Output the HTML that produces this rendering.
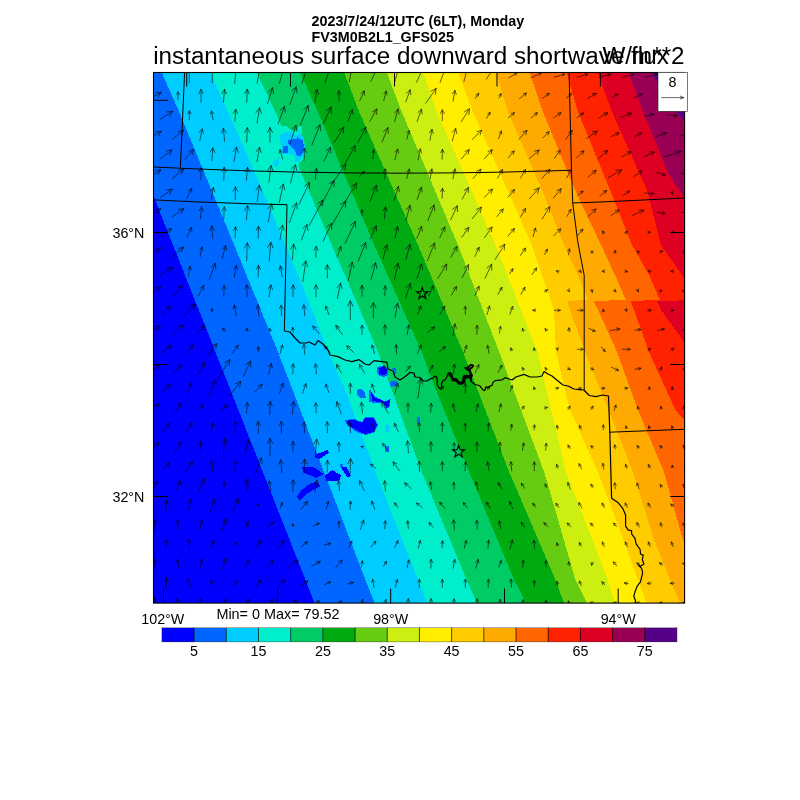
<!DOCTYPE html>
<html><head><meta charset="utf-8"><title>instantaneous surface downward shortwave flux</title>
<style>
html,body{margin:0;padding:0;background:#fff;}
body{width:800px;height:800px;overflow:hidden;}
svg{display:block;}
text{font-family:"Liberation Sans",Arial,Helvetica,sans-serif;fill:#000;}
.b{font-weight:bold;font-size:14.3px;}
.t{font-size:24.22px;}
.l{font-size:14.3px;}
</style></head><body>
<svg width="800" height="800" viewBox="0 0 800 800">
<defs><clipPath id="fr"><rect x="153.5" y="72.5" width="531.1" height="530.6"/></clipPath></defs>
<rect width="800" height="800" fill="#fff"/>

<g clip-path="url(#fr)">
<g shape-rendering="crispEdges">
<rect x="153.5" y="72.5" width="531.1" height="530.6" fill="#0000ff"/>
<polygon points="55.9,-50.0 104.3,72.0 173.0,245.0 215.5,352.0 305.5,580.0 315.0,604.0 353.0,700.0 2000,700 2000,-50" fill="#0066ff"/>
<polygon points="107.4,-50.0 161.5,72.0 179.2,112.0 234.2,245.0 278.0,352.0 365.5,580.0 375.0,604.0 413.0,700.0 2000,700 2000,-50" fill="#00cdff"/>
<polygon points="155.9,-50.0 210.2,72.0 228.0,112.0 246.0,152.0 285.5,245.0 313.0,312.0 328.0,352.0 346.0,392.0 375.5,472.0 418.0,580.0 427.5,604.0 465.5,700.0 2000,700 2000,-50" fill="#00eecc"/>
<polygon points="198.1,-50.0 256.4,72.0 275.5,112.0 331.8,245.0 361.0,312.0 378.0,352.0 392.5,392.0 421.8,472.0 466.8,580.0 474.2,597.0 477.0,604.0 514.7,700.0 2000,700 2000,-50" fill="#00cc66"/>
<polygon points="281.0,126.6 286.2,125.7 289.7,128.8 295.0,131.9 299.4,125.7 302.0,127.5 302.4,136.2 304.6,143.2 305.5,151.1 303.7,159.0 299.4,162.5 298.5,169.5 277.5,169.5 277.5,126.6" fill="#00eecc"/>
<polygon points="245.1,-50.0 300.0,72.0 318.0,112.0 374.2,245.0 421.8,352.0 436.8,392.0 469.2,472.0 514.2,580.0 523.0,597.0 526.0,604.0 567.1,700.0 2000,700 2000,-50" fill="#00aa11"/>
<polygon points="297.5,-50.0 344.0,72.0 359.2,112.0 418.0,245.0 463.0,352.0 509.2,472.0 555.5,580.0 561.8,597.0 564.5,604.0 602.2,700.0 2000,700 2000,-50" fill="#66cc11"/>
<polygon points="340.4,-50.0 386.6,72.0 401.8,112.0 458.0,245.0 499.2,352.0 544.2,472.0 575.5,580.0 584.2,597.0 587.0,604.0 624.7,700.0 2000,700 2000,-50" fill="#ccee11"/>
<polygon points="381.1,-50.0 423.0,72.0 436.8,112.0 495.5,245.0 537.5,352.0 566.0,472.0 608.0,580.0 613.0,597.0 616.0,604.0 657.1,700.0 2000,700 2000,-50" fill="#ffee00"/>
<polygon points="412.2,-50.0 458.0,72.0 473.0,112.0 531.8,245.0 542.0,275.0 554.0,310.0 556.0,352.0 570.0,410.0 598.0,472.0 623.6,540.0 638.0,580.0 644.2,597.0 647.0,604.0 684.7,700.0 2000,700 2000,-50" fill="#ffcc00"/>
<polygon points="459.4,-50.0 496.0,72.0 508.0,112.0 542.0,190.0 564.0,245.0 578.0,275.0 588.0,300.4 567.0,300.6 570.0,310.0 585.0,352.0 608.7,410.0 633.0,472.0 654.2,540.0 680.0,604.0 718.6,700.0 2000,700 2000,-50" fill="#ffaa00"/>
<polygon points="488.3,-50.0 529.5,72.0 543.0,112.0 575.0,190.0 601.0,245.0 615.0,275.0 626.0,300.4 593.5,300.6 598.0,310.0 617.0,352.0 638.0,410.0 664.0,472.0 683.0,540.0 708.0,604.0 745.5,700.0 2000,700 2000,-50" fill="#ff6600"/>
<polygon points="531.4,-50.0 566.5,72.0 578.0,112.0 610.0,190.0 632.0,245.0 649.0,275.0 660.0,300.4 630.5,300.6 634.0,310.0 649.0,352.0 675.4,410.0 685.0,421.0 760.0,604.0 799.3,700.0 2000,700 2000,-50" fill="#ff2200"/>
<polygon points="553.3,-50.0 597.5,72.0 612.0,112.0 647.0,190.0 661.0,245.0 682.0,275.0 686.0,281.0 700.0,300.4 657.0,300.6 661.0,310.0 685.0,343.0 800.0,604.0 842.3,700.0 2000,700 2000,-50" fill="#dd0022"/>
<polygon points="584.3,-50.0 628.5,72.0 643.0,112.0 658.0,148.0 669.0,175.0 679.0,190.0 685.0,198.0 850.0,604.0 889.0,700.0 2000,700 2000,-50" fill="#990055"/>
<polygon points="599.7,-50.0 652.0,72.0 655.0,79.0 677.0,112.0 685.0,122.0 900.0,604.0 942.8,700.0 2000,700 2000,-50" fill="#550088"/>
<polygon points="279.2,135.4 286.2,131.9 291.5,131.0 295.0,135.4 301.1,132.7 303.7,138.9 305.5,149.4 302.0,157.2 298.5,162.5 295.0,161.6 295.0,155.5 288.9,153.7 282.7,153.7 281.0,145.0" fill="#00cdff"/>
<polygon points="274.4,160.7 278.8,158.6 278.8,164.2 276.2,166.9 274.4,166.0" fill="#00cdff"/>
<polygon points="288.0,139.7 296.7,139.3 297.6,137.1 299.4,139.3 302.9,139.7 303.7,145.0 303.7,151.1 301.1,155.5 296.7,155.5 295.0,151.1 292.4,147.6 288.4,144.1" fill="#0066ff"/>
<polygon points="283.2,146.3 288.0,146.3 288.0,152.9 283.2,152.9" fill="#0066ff"/>
<polygon points="376.6,367.3 382.8,365.5 388.0,368.1 388.4,374.3 384.5,376.9 379.3,376.0 377.0,372.5" fill="#0066ff"/>
<polygon points="378.4,368.1 382.8,366.9 386.6,369.0 386.6,373.4 383.6,375.1 379.6,374.3" fill="#0000ff"/>
<polygon points="389.8,381.6 397.1,380.9 397.6,385.6 390.6,386.9" fill="#0066ff"/>
<polygon points="392.4,368.1 395.5,367.6 395.9,374.3 393.3,373.9" fill="#0066ff"/>
<polygon points="356.5,390.0 360.9,388.6 365.3,392.6 365.6,397.9 360.9,397.9 356.9,394.4" fill="#0066ff"/>
<polygon points="369.6,388.3 374.0,396.1 384.5,401.4 390.6,398.8 389.8,406.6 386.3,409.3 382.8,403.1 368.8,402.3" fill="#0066ff"/>
<polygon points="370.5,390.0 374.4,397.0 384.5,401.9 390.1,399.6 389.1,406.1 386.3,408.0 383.5,402.6 372.3,400.9" fill="#0000ff"/>
<polygon points="345.1,420.6 353.0,418.4 361.8,421.9 365.3,416.6 373.7,416.6 378.0,425.0 374.4,432.5 365.3,435.2 356.2,431.7 347.1,425.4" fill="#0066ff"/>
<polygon points="346.4,421.0 353.0,419.4 361.8,422.9 365.6,417.7 373.0,417.7 377.0,425.0 373.7,431.7 365.3,434.1 356.9,430.6 348.1,425.0" fill="#0000ff"/>
<polygon points="385.4,425.0 388.9,425.0 388.9,432.0 385.4,432.0" fill="#00cdff"/>
<polygon points="416.9,417.1 420.4,417.1 420.4,423.6 416.9,423.6" fill="#0066ff"/>
<polygon points="385.4,446.0 388.9,446.0 388.9,452.3 385.4,452.3" fill="#0066ff"/>
<polygon points="314.5,455.1 327.6,449.9 328.9,453.0 319.8,458.6 315.0,458.3" fill="#0000ff"/>
<polygon points="301.9,467.5 312.8,466.5 323.6,474.0 316.3,477.9 303.7,472.6" fill="#0000ff"/>
<polygon points="324.7,475.8 332.0,470.2 341.1,474.9 339.4,480.5 326.4,480.5" fill="#0000ff"/>
<polygon points="340.4,466.7 346.4,466.7 350.7,475.8 347.8,477.9" fill="#0000ff"/>
<polygon points="339.9,463.5 342.5,463.5 342.5,467.0 339.9,467.0" fill="#0066ff"/>
<polygon points="316.6,481.6 320.3,486.1 306.5,493.9 299.9,501.0 296.5,497.2 301.0,490.5 308.8,484.3" fill="#0000ff"/>
</g>
<polyline points="184.6,72.5 180.4,167.6" fill="none" stroke="#000" stroke-width="1.0" stroke-linejoin="round"/>
<polyline points="153.5,167.0 200.0,169.1 250.0,170.9 300.0,172.2 350.0,172.9 400.0,173.2 450.0,172.9 500.0,172.2 550.0,170.9 571.5,170.2" fill="none" stroke="#000" stroke-width="1.0" stroke-linejoin="round"/>
<polyline points="153.5,199.9 200.0,202.0 250.0,203.8 287.0,204.7 284.4,331.0" fill="none" stroke="#000" stroke-width="1.0" stroke-linejoin="round"/>
<polyline points="569.1,72.5 571.5,171.0 572.8,203.8 577.8,242.0 584.2,275.4 584.2,390.0" fill="none" stroke="#000" stroke-width="1.0" stroke-linejoin="round"/>
<polyline points="572.8,203.0 600.0,202.0 640.0,200.2 684.6,197.9" fill="none" stroke="#000" stroke-width="1.0" stroke-linejoin="round"/>
<polyline points="284.4,331.0 290.0,332.0 295.0,338.0 300.0,343.0 306.0,343.0 309.0,342.0 315.0,345.0 318.0,340.6 323.0,344.0 328.0,350.0 330.0,355.0 338.0,356.6 345.0,360.0 352.0,361.6 359.0,359.6 365.0,364.0 369.0,365.0 374.0,360.6 382.0,361.6 387.0,362.4 388.0,369.0 393.0,371.0 395.0,377.0 400.0,380.0 406.0,376.0 410.0,372.4 414.0,373.0 415.0,377.0 420.0,377.5 423.0,381.0 427.0,381.0 430.0,378.9 432.6,378.4 434.8,376.2 436.6,377.1 437.4,380.2 437.0,384.1 438.7,387.6 440.5,388.9 441.8,386.7 441.4,384.1 443.1,380.6 445.3,379.7 447.1,376.2 447.9,373.6 450.6,373.2 451.9,375.4 452.7,378.9 456.2,378.9 458.9,381.9 461.1,382.8 463.2,380.6 463.7,376.2 466.7,375.4 469.4,376.2 470.7,374.5 469.8,371.0 467.6,370.1 465.0,367.5 466.7,367.9 468.5,366.6 470.7,364.9 473.3,365.7 472.0,367.5 470.2,367.9 469.8,371.0 472.0,375.4 470.7,378.0 471.1,381.5 472.9,382.8 475.5,385.0 478.1,385.0 480.3,386.3 482.5,389.4 484.7,390.7 486.0,386.7 487.7,387.6 489.5,386.3 492.1,385.4 493.0,382.4 495.2,380.6 500.0,380.2 502.0,380.0 505.0,377.6 509.0,379.0 512.0,380.0 516.0,377.0 524.0,374.4 530.0,377.0 537.0,377.0 542.0,376.0 544.0,371.6 548.0,374.0 552.0,376.0 558.0,381.0 563.0,385.0 568.0,386.0 574.0,389.0 580.0,389.6 583.8,390.0 589.3,395.5 596.0,396.6 602.7,395.0 608.5,396.0 609.8,432.2 611.6,498.3 618.3,502.8 622.7,508.3 625.6,515.0 625.6,526.1 628.3,530.1 631.6,530.6 631.6,533.9 635.0,538.4 636.1,543.9 640.1,549.5 640.5,554.0 643.2,555.1 642.3,559.5 643.9,564.0 640.5,566.2 638.3,565.1 641.6,568.4 642.7,572.9 640.5,581.8 637.2,586.2 635.0,591.8 633.8,596.2 635.6,600.7 635.0,603.1" fill="none" stroke="#000" stroke-width="1.2" stroke-linejoin="round"/>
<polyline points="609.8,432.2 684.6,429.3" fill="none" stroke="#000" stroke-width="1.0" stroke-linejoin="round"/>
<polyline points="447.9,373.6 450.6,373.2 451.9,375.4 452.7,379.3 456.2,379.3 458.9,382.4 461.1,383.1 463.2,381.1 463.7,376.7 466.7,375.8 469.4,376.7 470.7,374.9 469.8,371.0 467.6,369.7 465.0,367.5" fill="none" stroke="#000" stroke-width="2.0" stroke-linejoin="round"/>
<polyline points="467.6,369.7 468.5,366.6 470.7,364.9 473.3,365.7 471.6,367.9 470.2,368.4 470.1,371.4 472.0,375.4 470.7,378.0 471.1,381.5" fill="none" stroke="#000" stroke-width="1.8" stroke-linejoin="round"/>
<polyline points="448.8,374.9 451.4,377.1 452.3,380.6 455.8,380.8 458.4,383.7 461.5,384.3 464.6,381.9 465.0,378.0 467.6,377.6 469.8,378.4" fill="none" stroke="#000" stroke-width="1.5" stroke-linejoin="round"/>
<polygon points="422.3,287.6 423.7,291.7 428.0,291.7 424.6,294.3 425.8,298.5 422.3,296.0 418.8,298.5 420.0,294.3 416.6,291.7 420.9,291.7" fill="none" stroke="#000" stroke-width="1.15" stroke-linejoin="miter"/>
<polygon points="458.6,445.5 460.1,449.8 464.6,449.9 461.0,452.6 462.3,456.9 458.6,454.3 454.9,456.9 456.2,452.6 452.6,449.9 457.1,449.8" fill="none" stroke="#000" stroke-width="1.15" stroke-linejoin="miter"/>
<path d="M189.3 82.8L189.3 62.0M187.1 66.4L189.3 62.0L191.5 66.4M212.3 82.8L212.3 62.0M210.1 66.4L212.3 62.0L214.5 66.4M234.7 83.3L236.6 61.0M233.8 65.5L236.6 61.0L238.6 65.9M257.1 83.2L261.0 61.1M257.8 65.4L261.0 61.1L262.5 66.2M279.4 83.5L285.6 60.4M281.8 64.6L285.6 60.4L286.8 65.9M302.0 83.4L309.4 60.6M305.4 64.6L309.4 60.6L310.3 66.2M324.9 82.9L332.6 61.8M328.7 65.5L332.6 61.8L333.2 67.1M349.3 81.7L352.4 64.4M349.9 67.7L352.4 64.4L353.6 68.4M370.8 81.7L378.9 64.3M375.3 67.1L378.9 64.3L379.0 68.9M394.9 81.6L399.4 64.6M396.6 67.7L399.4 64.6L400.3 68.7M416.6 82.2L425.3 63.3M421.5 66.4L425.3 63.3L425.5 68.3M440.1 82.4L447.2 62.9M443.6 66.2L447.2 62.9L447.8 67.8M463.9 81.6L468.4 64.6M465.6 67.7L468.4 64.6L469.3 68.7M486.4 79.3L492.4 69.8M490.0 71.2L492.4 69.8L492.1 72.6M508.7 77.8L517.0 73.0M514.2 73.1L517.0 73.0L515.5 75.3M531.1 77.8L541.3 73.0M538.5 72.9L541.3 73.0L539.6 75.3M553.9 77.2L564.7 74.3M562.0 73.7L564.7 74.3L562.7 76.2M576.9 77.2L587.7 74.3M585.0 73.7L587.7 74.3L585.7 76.2M599.9 77.2L610.7 74.3M608.0 73.7L610.7 74.3L608.7 76.2M622.9 77.2L633.7 74.3M631.0 73.7L633.7 74.3L631.7 76.2M645.4 77.3L657.8 74.0M654.8 73.4L657.8 74.0L655.5 76.1M148.9 99.3L161.1 92.3M155.7 92.6L161.1 92.3L158.2 96.8M178.0 99.8L178.0 91.8M176.6 94.5L178.0 91.8L179.4 94.5M201.0 102.3L201.0 89.3M198.8 93.7L201.0 89.3L203.2 93.7M223.4 102.3L224.6 89.3M221.9 93.5L224.6 89.3L226.4 93.9M246.8 102.3L247.2 89.3M244.8 93.6L247.2 89.3L249.3 93.8M267.4 103.9L272.6 87.7M268.4 92.0L272.6 87.7L273.6 93.6M289.8 104.7L296.2 86.9M291.9 91.0L296.2 86.9L297.0 92.8M314.9 102.2L317.1 89.4M314.2 93.3L317.1 89.4L318.6 94.1M339.0 100.8L339.0 90.8M337.3 94.2L339.0 90.8L340.7 94.2M359.7 100.8L364.3 90.8M361.0 93.4L364.3 90.8L364.5 95.0M383.7 100.6L386.3 91.0M383.8 93.8L386.3 91.0L387.1 94.7M405.8 101.9L410.2 89.7M406.6 93.1L410.2 89.7L410.8 94.6M425.8 103.2L436.2 88.4M430.9 91.2L436.2 88.4L435.3 94.4M453.0 101.2L455.0 90.4M452.4 93.7L455.0 90.4L456.2 94.4M475.3 98.3L478.7 93.3M476.2 94.7L478.7 93.3L478.3 96.1M498.8 98.0L501.2 93.6M498.9 95.2L501.2 93.6L501.1 96.4M519.5 98.6L526.5 93.0M523.2 93.7L526.5 93.0L525.1 96.1M542.7 98.1L549.3 93.5M546.3 93.9L549.3 93.5L547.8 96.2M566.3 98.0L571.7 93.6M569.0 94.2L571.7 93.6L570.6 96.1M587.7 98.3L596.3 93.3M592.5 93.5L596.3 93.3L594.3 96.5M612.0 97.5L618.0 94.0M615.2 94.2L618.0 94.0L616.5 96.4M633.9 97.7L642.1 93.9M638.7 93.8L642.1 93.9L640.0 96.6M160.2 119.2L172.4 111.4M166.9 111.9L172.4 111.4L169.6 116.1M189.3 119.8L189.3 110.8M187.7 113.8L189.3 110.8L190.9 113.8M213.1 119.7L211.5 110.9M210.5 114.1L211.5 110.9L213.6 113.6M234.8 121.3L235.8 109.3M233.4 113.2L235.8 109.3L237.5 113.6M257.0 122.9L259.6 107.7M256.1 112.4L259.6 107.7L261.4 113.3M278.1 124.2L284.5 106.4M280.2 110.5L284.5 106.4L285.3 112.3M300.4 125.0L308.2 105.6M303.7 109.5L308.2 105.6L308.8 111.5M323.5 123.5L331.1 107.1M326.4 110.8L331.1 107.1L331.3 113.1M348.2 120.9L352.4 109.7M349.0 112.8L352.4 109.7L352.9 114.2M369.7 121.6L376.9 109.0M372.3 112.0L376.9 109.0L376.6 114.5M394.6 121.6L398.0 109.0M394.7 112.7L398.0 109.0L399.0 113.9M417.1 121.4L421.5 109.2M417.9 112.6L421.5 109.2L422.1 114.1M442.3 120.8L442.3 109.8M440.4 113.5L442.3 109.8L444.2 113.5M461.2 121.9L469.4 108.7M464.4 111.8L469.4 108.7L468.9 114.6M486.6 118.3L490.1 112.3M487.7 113.8L490.1 112.3L489.9 115.1M508.2 117.9L514.4 112.7M511.4 113.4L514.4 112.7L513.2 115.5M531.2 117.9L537.4 112.7M534.4 113.4L537.4 112.7L536.2 115.5M553.6 117.9L561.0 112.7M557.6 113.2L561.0 112.7L559.4 115.7M577.0 117.6L583.6 113.0M580.6 113.4L583.6 113.0L582.1 115.7M599.0 117.8L607.6 112.8M603.8 113.0L607.6 112.8L605.6 116.0M620.7 117.4L631.9 113.2M627.4 112.7L631.9 113.2L628.8 116.6M644.5 116.6L654.1 114.0M650.4 113.2L654.1 114.0L651.3 116.5M667.3 114.9L677.3 115.7M674.1 113.7L677.3 115.7L673.8 117.2M148.9 138.3L161.1 131.3M155.7 131.6L161.1 131.3L158.2 135.8M172.4 139.5L183.6 130.1M178.2 131.4L183.6 130.1L181.4 135.2M199.8 140.7L202.2 128.9M199.4 132.5L202.2 128.9L203.4 133.3M224.6 141.3L223.4 128.3M221.6 132.9L223.4 128.3L226.1 132.5M246.7 142.0L247.3 127.6M244.6 132.4L247.3 127.6L249.6 132.5M270.0 142.1L270.0 127.6M267.5 132.5L270.0 127.6L272.5 132.5M289.9 144.3L296.1 125.3M291.8 129.5L296.1 125.3L297.0 131.2M311.9 145.0L320.1 124.6M315.6 128.5L320.1 124.6L320.6 130.6M334.2 142.4L343.8 127.2M338.6 130.3L343.8 127.2L343.2 133.1M358.0 142.3L366.0 127.3M361.1 130.7L366.0 127.3L365.9 133.3M382.1 142.0L387.9 127.6M383.5 131.5L387.9 127.6L388.4 133.5M406.8 139.1L409.2 130.5M406.9 133.0L409.2 130.5L409.9 133.8M430.0 140.2L432.0 129.4M429.4 132.7L432.0 129.4L433.2 133.4M452.3 141.1L455.7 128.5M452.4 132.2L455.7 128.5L456.7 133.4M472.4 139.4L481.6 130.2M476.9 131.7L481.6 130.2L480.1 134.9M498.6 138.6L501.4 131.0M499.1 133.1L501.4 131.0L501.7 134.1M519.0 139.3L527.0 130.3M522.8 132.0L527.0 130.3L525.8 134.7M542.8 138.0L549.2 131.6M545.9 132.7L549.2 131.6L548.1 134.9M565.8 139.3L572.2 130.3M568.5 132.3L572.2 130.3L571.6 134.4M586.7 138.5L597.3 131.1M592.4 131.8L597.3 131.1L595.0 135.4M610.9 136.7L619.1 132.9M615.7 132.8L619.1 132.9L617.0 135.6M634.5 136.8L641.5 132.8M638.4 133.0L641.5 132.8L639.8 135.3M655.4 136.9L666.6 132.7M662.1 132.2L666.6 132.7L663.5 136.1M679.2 136.1L688.8 133.5M685.1 132.7L688.8 133.5L686.0 136.0M160.6 158.8L172.0 149.8M166.6 150.9L172.0 149.8L169.7 154.8M185.0 159.1L193.6 149.5M189.0 151.2L193.6 149.5L192.4 154.2M211.7 160.8L212.9 147.8M210.2 152.0L212.9 147.8L214.7 152.4M234.0 161.4L236.6 147.2M233.2 151.6L236.6 147.2L238.2 152.4M257.0 161.4L259.6 147.2M256.2 151.6L259.6 147.2L261.2 152.4M282.6 159.1L280.0 149.5M279.2 153.2L280.0 149.5L282.5 152.3M304.1 160.3L304.5 148.3M302.3 152.3L304.5 148.3L306.4 152.4M324.0 161.3L330.6 147.3M325.9 150.9L330.6 147.3L330.8 153.2M345.3 163.0L355.3 145.6M350.3 148.9L355.3 145.6L355.0 151.6M372.9 158.8L373.7 149.8M371.9 152.7L373.7 149.8L375.0 153.0M394.9 159.6L397.7 149.0M394.9 152.1L397.7 149.0L398.6 153.1M418.2 159.7L420.4 148.9M417.8 152.2L420.4 148.9L421.5 153.0M442.1 159.3L442.5 149.3M440.6 152.6L442.5 149.3L444.1 152.7M461.4 158.9L469.2 149.7M465.0 151.5L469.2 149.7L468.1 154.1M484.4 158.9L492.2 149.7M488.0 151.5L492.2 149.7L491.1 154.1M508.4 157.7L514.2 150.9M511.0 152.2L514.2 150.9L513.4 154.2M529.5 158.6L539.1 150.0M534.4 151.2L539.1 150.0L537.4 154.6M554.4 158.4L560.2 150.2M556.8 152.0L560.2 150.2L559.6 154.0M576.8 157.8L583.8 150.8M580.2 151.9L583.8 150.8L582.7 154.4M598.8 158.3L607.8 150.3M603.4 151.5L607.8 150.3L606.1 154.5M621.5 157.1L631.1 151.6M626.9 151.8L631.1 151.6L628.8 155.1M644.3 156.6L654.3 152.0M650.1 151.8L654.3 152.0L651.7 155.3M663.7 157.1L680.9 151.5M674.9 150.6L680.9 151.5L676.6 155.8M149.3 177.8L160.7 169.8M155.5 170.5L160.7 169.8L158.2 174.5M172.4 178.5L183.6 169.1M178.2 170.4L183.6 169.1L181.4 174.2M200.8 179.8L201.2 167.8M199.0 171.8L201.2 167.8L203.1 171.9M223.8 180.3L224.2 167.3M221.8 171.6L224.2 167.3L226.3 171.8M246.4 180.3L247.6 167.3M244.9 171.5L247.6 167.3L249.4 171.9M268.9 182.0L271.1 165.6M267.7 170.5L271.1 165.6L273.1 171.3M290.5 183.0L295.5 164.6M291.4 169.1L295.5 164.6L296.7 170.5M315.5 179.3L316.5 168.3M314.3 171.9L316.5 168.3L318.0 172.2M332.1 183.6L345.9 164.0M340.6 166.8L345.9 164.0L345.0 169.9M359.5 176.3L364.5 171.3M361.8 172.2L364.5 171.3L363.6 174.0M384.8 178.8L385.2 168.8M383.3 172.1L385.2 168.8L386.8 172.2M406.7 178.6L409.3 169.0M406.8 171.8L409.3 169.0L410.1 172.7M430.1 178.7L431.9 168.9M429.6 171.9L431.9 168.9L433.0 172.5M453.0 178.7L455.0 168.9M452.6 171.9L455.0 168.9L456.0 172.6M473.1 178.4L480.9 169.2M476.7 171.0L480.9 169.2L479.8 173.6M497.5 178.1L502.5 169.5M499.3 171.5L502.5 169.5L502.3 173.3M520.5 178.1L525.5 169.5M522.3 171.5L525.5 169.5L525.3 173.3M542.1 178.4L549.9 169.2M545.7 171.0L549.9 169.2L548.8 173.6M566.8 177.7L571.2 169.9M568.4 171.8L571.2 169.9L571.1 173.3M587.8 177.3L596.2 170.3M592.1 171.2L596.2 170.3L594.6 174.1M608.3 177.7L621.7 169.9M615.8 170.2L621.7 169.9L618.5 174.9M633.9 176.7L642.1 170.9M638.3 171.5L642.1 170.9L640.3 174.3M656.7 172.6L665.3 175.0M662.8 172.7L665.3 175.0L662.0 175.7M680.1 173.1L687.9 174.5M685.5 172.7L687.9 174.5L685.0 175.4M160.4 197.5L172.2 189.1M166.8 189.9L172.2 189.1L169.7 194.0M187.0 198.3L191.6 188.3M188.3 190.9L191.6 188.3L191.8 192.5M211.3 199.2L213.3 187.4M210.6 191.0L213.3 187.4L214.7 191.8M235.1 199.8L235.5 186.8M233.1 191.1L235.5 186.8L237.6 191.3M257.2 201.5L259.4 185.1M256.0 190.0L259.4 185.1L261.4 190.8M279.3 202.6L283.3 184.0M279.5 188.7L283.3 184.0L284.8 189.8M299.2 204.2L309.4 182.4M304.6 186.1L309.4 182.4L309.6 188.4M320.5 206.1L334.1 180.5M329.2 183.9L334.1 180.5L334.0 186.5M343.9 203.5L356.7 183.1M351.5 186.2L356.7 183.1L356.1 189.1M370.1 201.2L376.5 185.4M372.0 189.4L376.5 185.4L377.0 191.4M394.1 200.2L398.5 186.4M394.6 190.3L398.5 186.4L399.4 191.8M417.1 199.4L421.5 187.2M417.9 190.6L421.5 187.2L422.1 192.1M442.1 198.3L442.5 188.3M440.6 191.6L442.5 188.3L444.1 191.7M462.2 199.0L468.4 187.6M464.3 190.4L468.4 187.6L468.3 192.5M484.1 197.5L492.5 189.1M488.2 190.5L492.5 189.1L491.1 193.4M508.1 197.1L514.5 189.5M511.0 191.0L514.5 189.5L513.7 193.2M529.4 198.7L539.2 187.9M534.0 189.9L539.2 187.9L537.7 193.2M553.4 197.9L561.2 188.7M557.0 190.5L561.2 188.7L560.1 193.1M577.6 195.5L583.0 191.1M580.3 191.7L583.0 191.1L581.9 193.6M599.9 196.2L606.7 190.4M603.4 191.2L606.7 190.4L605.4 193.6M623.0 195.6L629.6 191.0M626.6 191.4L629.6 191.0L628.1 193.7M644.8 192.9L653.8 193.7M650.9 191.9L653.8 193.7L650.6 195.0M671.8 192.4L672.8 194.2M672.7 191.4L672.8 194.2L670.5 192.6M149.3 216.8L160.7 208.8M155.5 209.5L160.7 208.8L158.2 213.5M172.1 217.0L183.9 208.6M178.5 209.4L183.9 208.6L181.4 213.5M200.5 218.8L201.5 206.8M199.1 210.7L201.5 206.8L203.2 211.1M223.8 218.8L224.2 206.8M222.0 210.8L224.2 206.8L226.1 210.9M246.4 220.0L247.6 205.6M244.7 210.3L247.6 205.6L249.7 210.7M268.4 221.7L271.6 203.9M268.0 208.7L271.6 203.9L273.3 209.7M289.4 222.7L296.6 202.9M292.2 207.0L296.6 202.9L297.3 208.9M309.2 225.6L322.8 200.0M317.9 203.4L322.8 200.0L322.7 206.0M332.2 224.5L345.8 201.1M340.7 204.4L345.8 201.1L345.4 207.1M362.0 215.8L362.0 209.8M360.7 212.3L362.0 209.8L363.3 212.3M384.5 218.8L385.5 206.8M383.1 210.7L385.5 206.8L387.2 211.1M406.0 220.3L410.0 205.3M406.1 209.7L410.0 205.3L411.2 211.1M427.8 220.7L434.2 204.9M429.7 208.9L434.2 204.9L434.7 210.9M450.7 219.8L457.3 205.8M452.6 209.4L457.3 205.8L457.5 211.7M472.5 218.5L481.5 207.1M476.5 209.4L481.5 207.1L480.4 212.5M496.8 216.6L503.2 209.0M499.7 210.5L503.2 209.0L502.4 212.7M520.5 217.1L525.5 208.5M522.3 210.5L525.5 208.5L525.3 212.3M542.2 218.9L549.8 206.7M545.1 209.5L549.8 206.7L549.4 212.1M567.0 216.3L571.0 209.3M568.5 211.0L571.0 209.3L570.8 212.4M588.1 216.7L595.9 208.9M591.9 210.2L595.9 208.9L594.6 212.9M610.9 215.7L619.1 209.9M615.3 210.5L619.1 209.9L617.3 213.3M632.1 215.5L643.9 210.1M639.0 209.9L643.9 210.1L640.8 213.9M657.1 212.1L664.9 213.5M662.5 211.7L664.9 213.5L662.0 214.4M681.0 212.3L687.0 213.3M684.7 211.6L687.0 213.3L684.3 214.1M161.0 236.0L171.6 228.6M166.7 229.3L171.6 228.6L169.3 232.9M187.0 237.3L191.6 227.3M188.3 229.9L191.6 227.3L191.8 231.5M212.9 238.8L211.7 225.8M209.9 230.4L211.7 225.8L214.4 230.0M235.1 237.8L235.5 226.8M233.5 230.5L235.5 226.8L237.3 230.6M258.1 238.3L258.5 226.3M256.3 230.3L258.5 226.3L260.4 230.4M280.0 239.4L282.6 225.2M279.2 229.6L282.6 225.2L284.2 230.4M301.5 240.1L307.1 224.5M302.7 228.6L307.1 224.5L307.9 230.5M323.1 241.4L331.5 223.2M326.8 226.9L331.5 223.2L331.7 229.2M345.2 243.2L355.4 221.4M350.6 225.1L355.4 221.4L355.6 227.4M370.2 238.9L376.4 225.7M372.0 229.1L376.4 225.7L376.6 231.2M395.1 238.2L397.5 226.4M394.7 230.0L397.5 226.4L398.7 230.8M416.9 238.3L421.7 226.3M418.0 229.5L421.7 226.3L422.2 231.2M439.8 237.7L444.8 226.9M441.2 229.7L444.8 226.9L445.0 231.4M461.9 237.2L468.7 227.4M464.7 229.5L468.7 227.4L468.1 231.9M484.6 237.6L492.0 227.0M487.7 229.3L492.0 227.0L491.3 231.9M508.1 236.1L514.5 228.5M511.0 230.0L514.5 228.5L513.7 232.2M533.1 236.6L535.5 228.0M533.2 230.5L535.5 228.0L536.2 231.3M553.8 235.8L560.8 228.8M557.2 229.9L560.8 228.8L559.7 232.4M577.7 235.4L582.9 229.2M580.1 230.4L582.9 229.2L582.2 232.2M604.0 233.6L602.5 231.0M602.7 233.8L602.5 231.0L604.9 232.5M625.5 233.6L627.0 231.0M624.7 232.5L627.0 231.0L626.9 233.8M648.3 232.3L650.3 232.3M647.8 231.0L650.3 232.3L647.8 233.6M673.3 232.3L671.3 232.3M673.8 233.6L671.3 232.3L673.8 231.0M149.3 255.8L160.7 247.8M155.5 248.5L160.7 247.8L158.2 252.5M172.4 256.5L183.6 247.1M178.2 248.4L183.6 247.1L181.4 252.2M200.1 256.7L201.9 246.9M199.6 249.9L201.9 246.9L203.0 250.5M222.3 258.1L225.7 245.5M222.4 249.2L225.7 245.5L226.7 250.4M246.7 260.8L247.3 242.8M244.4 248.1L247.3 242.8L249.8 248.2M269.2 261.3L270.8 242.3M267.6 247.4L270.8 242.3L273.1 247.9M292.3 259.5L293.7 244.1M290.6 249.1L293.7 244.1L295.9 249.5M315.8 257.3L316.2 246.3M314.2 250.0L316.2 246.3L318.0 250.1M337.1 257.0L340.9 246.6M337.8 249.5L340.9 246.6L341.4 250.8M358.3 261.1L365.7 242.5M361.2 246.5L365.7 242.5L366.3 248.5M383.1 258.8L386.9 244.8M383.2 248.9L386.9 244.8L388.0 250.2M406.0 259.3L410.0 244.3M406.1 248.7L410.0 244.3L411.2 250.1M427.4 260.6L434.6 243.0M430.0 246.9L434.6 243.0L435.1 249.0M451.0 257.0L457.0 246.6M453.2 249.1L457.0 246.6L456.8 251.2M474.9 256.3L479.1 247.3M476.1 249.6L479.1 247.3L479.2 251.1M495.2 259.4L504.8 244.2M499.6 247.3L504.8 244.2L504.2 250.1M520.4 255.5L525.6 248.1M522.6 249.7L525.6 248.1L525.1 251.5M544.7 254.5L547.3 249.1M545.1 250.8L547.3 249.1L547.4 251.9M568.5 254.8L569.5 248.8M567.8 251.1L569.5 248.8L570.3 251.5M592.0 252.8L592.0 250.8M590.7 253.3L592.0 250.8L593.3 253.3M614.2 253.1L615.8 250.5M613.4 252.0L615.8 250.5L615.6 253.3M638.9 252.3L637.1 251.3M638.7 253.6L637.1 251.3L639.9 251.4M659.3 252.8L662.7 250.8M659.9 250.9L662.7 250.8L661.2 253.1M682.7 252.6L685.3 251.1M682.5 251.2L685.3 251.1L683.8 253.4M159.6 275.2L173.0 267.4M167.1 267.7L173.0 267.4L169.8 272.4M188.4 276.2L190.2 266.4M187.9 269.4L190.2 266.4L191.3 270.0M209.4 279.3L215.2 263.3M210.8 267.4L215.2 263.3L215.9 269.3M234.3 277.2L236.3 265.4M233.6 269.0L236.3 265.4L237.7 269.8M258.1 277.3L258.5 265.3M256.3 269.3L258.5 265.3L260.4 269.4M282.3 276.7L280.3 265.9M279.1 269.9L280.3 265.9L282.9 269.2M302.8 281.7L305.8 260.9M302.3 265.8L305.8 260.9L307.7 266.6M327.3 277.8L327.3 264.8M325.1 269.2L327.3 264.8L329.5 269.2M348.3 280.6L352.3 262.0M348.5 266.7L352.3 262.0L353.8 267.8M371.0 280.0L375.6 262.6M371.6 267.1L375.6 262.6L376.9 268.5M394.5 279.6L398.1 263.0M394.3 267.6L398.1 263.0L399.6 268.8M416.9 278.7L421.7 263.9M417.5 268.1L421.7 263.9L422.6 269.7M437.8 278.5L446.8 264.1M441.7 267.2L446.8 264.1L446.3 270.1M462.2 277.9L468.4 264.7M464.0 268.1L468.4 264.7L468.6 270.2M485.0 278.3L491.6 264.3M486.9 267.9L491.6 264.3L491.8 270.2M509.6 273.8L513.0 268.8M510.5 270.2L513.0 268.8L512.6 271.6M532.0 274.6L536.6 268.0M533.9 269.5L536.6 268.0L536.2 271.0M558.2 271.8L556.4 270.8M558.0 273.1L556.4 270.8L559.2 270.9M579.2 270.2L581.4 272.4M580.5 269.7L581.4 272.4L578.7 271.5M604.3 271.3L602.3 271.3M604.8 272.6L602.3 271.3L604.8 270.0M624.9 270.8L627.7 271.8M625.8 269.8L627.7 271.8L624.9 272.2M650.2 271.8L648.4 270.8M650.0 273.1L648.4 270.8L651.2 270.9M673.8 271.3L670.8 271.3M673.3 272.6L670.8 271.3L673.3 270.0M149.3 294.8L160.7 286.8M155.5 287.5L160.7 286.8L158.2 291.5M173.8 295.8L182.2 285.8M177.6 287.8L182.2 285.8L181.1 290.6M198.2 296.1L203.8 285.5M200.1 288.1L203.8 285.5L203.7 290.1M223.8 296.3L224.2 285.3M222.2 289.0L224.2 285.3L226.0 289.1M247.2 296.8L246.8 284.8M244.9 288.9L246.8 284.8L249.0 288.8M269.0 296.7L271.0 284.9M268.3 288.5L271.0 284.9L272.4 289.3M292.8 296.8L293.2 284.8M291.0 288.8L293.2 284.8L295.1 288.9M316.0 296.8L316.0 284.8M313.9 288.9L316.0 284.8L318.1 288.9M337.4 298.4L340.6 283.2M336.9 287.8L340.6 283.2L342.1 288.9M362.0 296.3L362.0 285.3M360.1 289.0L362.0 285.3L363.9 289.0M384.8 295.8L385.2 285.8M383.3 289.1L385.2 285.8L386.8 289.2M405.6 298.2L410.4 283.4M406.2 287.6L410.4 283.4L411.3 289.2M428.7 295.8L433.3 285.8M430.0 288.4L433.3 285.8L433.5 290.0M451.5 295.1L456.5 286.5M453.3 288.5L456.5 286.5L456.3 290.3M474.9 295.3L479.1 286.3M476.1 288.6L479.1 286.3L479.2 290.1M498.0 294.3L502.0 287.3M499.5 289.0L502.0 287.3L501.8 290.4M521.0 294.3L525.0 287.3M522.5 289.0L525.0 287.3L524.8 290.4M544.4 291.9L547.6 289.7M544.9 290.0L547.6 289.7L546.3 292.1M568.4 290.0L569.6 291.6M569.0 288.8L569.6 291.6L567.1 290.5M591.7 289.3L592.3 292.3M593.1 289.6L592.3 292.3L590.6 290.0M614.0 289.7L616.0 291.9M615.3 289.2L616.0 291.9L613.4 290.9M637.5 289.9L638.5 291.7M638.4 288.9L638.5 291.7L636.2 290.1M660.1 291.3L661.9 290.3M659.1 290.4L661.9 290.3L660.3 292.6M683.1 291.3L684.9 290.3M682.1 290.4L684.9 290.3L683.3 292.6M162.1 314.5L170.5 306.1M166.2 307.5L170.5 306.1L169.1 310.4M183.6 316.6L195.0 304.0M189.4 306.1L195.0 304.0L193.4 309.8M213.0 312.2L211.6 308.4M211.3 311.2L211.6 308.4L213.7 310.3M236.3 315.7L234.3 304.9M233.1 308.9L234.3 304.9L236.9 308.2M258.8 315.8L257.8 304.8M256.3 308.7L257.8 304.8L260.0 308.4M281.5 315.3L281.1 305.3M279.5 308.7L281.1 305.3L283.0 308.6M304.8 315.8L303.8 304.8M302.3 308.7L303.8 304.8L306.0 308.4M328.8 314.5L325.8 306.1M325.3 309.5L325.8 306.1L328.3 308.4M350.3 319.8L350.3 300.8M347.6 306.1L350.3 300.8L353.0 306.1M373.3 318.1L373.3 302.6M370.6 307.8L373.3 302.6L376.0 307.8M395.0 317.4L397.6 303.2M394.2 307.6L397.6 303.2L399.2 308.4M417.8 314.5L420.8 306.1M418.3 308.4L420.8 306.1L421.3 309.5M439.8 314.6L444.8 306.0M441.6 308.0L444.8 306.0L444.6 309.8M465.3 314.3L465.3 306.3M463.9 309.0L465.3 306.3L466.7 309.0M487.1 314.6L489.5 306.0M487.2 308.5L489.5 306.0L490.2 309.3M509.9 314.1L512.7 306.5M510.4 308.6L512.7 306.5L513.0 309.6M535.8 310.3L532.8 310.3M535.3 311.6L532.8 310.3L535.3 309.0M554.3 310.3L560.3 310.3M557.8 309.0L560.3 310.3L557.8 311.6M577.3 310.3L583.3 310.3M580.8 309.0L583.3 310.3L580.8 311.6M603.5 311.3L603.1 309.3M602.3 312.0L603.1 309.3L604.8 311.6M625.8 309.4L626.8 311.2M626.7 308.4L626.8 311.2L624.5 309.6M647.3 310.3L651.3 310.3M648.8 309.0L651.3 310.3L648.8 311.6M670.8 310.3L673.8 310.3M671.3 309.0L673.8 310.3L671.3 311.6M149.6 334.3L160.4 325.3M155.2 326.5L160.4 325.3L158.3 330.2M172.6 334.7L183.4 324.9M178.1 326.4L183.4 324.9L181.4 330.1M197.0 334.3L205.0 325.3M200.8 327.0L205.0 325.3L203.8 329.7M225.4 331.2L222.6 328.4M223.5 331.0L222.6 328.4L225.2 329.3M247.3 331.3L246.7 328.3M245.9 331.0L246.7 328.3L248.4 330.6M270.8 331.1L269.2 328.5M269.4 331.3L269.2 328.5L271.6 330.0M293.4 332.3L292.6 327.3M291.7 330.0L292.6 327.3L294.3 329.6M319.2 333.6L312.8 326.0M313.6 329.7L312.8 326.0L316.3 327.5M342.2 334.3L335.8 325.3M336.4 329.4L335.8 325.3L339.5 327.3M362.0 334.3L362.0 325.3M360.4 328.3L362.0 325.3L363.6 328.3M385.0 334.8L385.0 324.8M383.3 328.2L385.0 324.8L386.7 328.2M407.1 334.7L408.9 324.9M406.6 327.9L408.9 324.9L410.0 328.5M427.6 332.7L434.4 326.9M431.1 327.7L434.4 326.9L433.1 330.1M453.0 335.7L455.0 323.9M452.3 327.5L455.0 323.9L456.4 328.3M476.8 334.3L477.2 325.3M475.5 328.3L477.2 325.3L478.6 328.4M499.4 333.2L500.6 326.4M498.9 328.6L500.6 326.4L501.4 329.0M523.5 331.2L522.5 328.4M522.1 331.2L522.5 328.4L524.5 330.3M547.0 330.9L545.0 328.7M545.7 331.4L545.0 328.7L547.6 329.7M569.0 331.8L569.0 327.8M567.7 330.3L569.0 327.8L570.3 330.3M588.8 328.3L595.2 331.3M593.4 329.1L595.2 331.3L592.4 331.4M610.1 330.7L619.9 328.9M616.3 327.8L619.9 328.9L616.9 331.2M635.0 330.1L641.0 329.5M638.4 328.5L641.0 329.5L638.6 331.0M657.6 330.7L664.4 328.9M661.6 328.3L664.4 328.9L662.3 330.8M681.6 330.4L686.4 329.2M683.7 328.6L686.4 329.2L684.3 331.0M161.2 353.3L171.4 345.3M166.6 346.2L171.4 345.3L169.3 349.8M185.8 353.5L192.8 345.1M189.0 346.7L192.8 345.1L191.9 349.2M207.8 355.0L216.8 343.6M211.8 345.9L216.8 343.6L215.7 349.0M232.4 353.4L238.2 345.2M234.8 347.0L238.2 345.2L237.6 349.0M258.3 351.8L258.3 346.8M257.0 349.3L258.3 346.8L259.6 349.3M280.1 353.6L282.5 345.0M280.2 347.5L282.5 345.0L283.2 348.3M304.7 354.3L303.9 344.3M302.4 347.8L303.9 344.3L305.9 347.5M330.2 352.7L324.4 345.9M325.2 349.2L324.4 345.9L327.6 347.2M353.8 352.8L346.8 345.8M347.9 349.4L346.8 345.8L350.4 346.9M374.5 353.6L372.1 345.0M371.4 348.3L372.1 345.0L374.4 347.5M396.5 353.8L396.1 344.8M394.7 347.9L396.1 344.8L397.8 347.8M417.4 353.4L421.2 345.2M418.5 347.3L421.2 345.2L421.3 348.6M439.2 351.9L445.4 346.7M442.4 347.4L445.4 346.7L444.2 349.5M463.9 353.1L466.7 345.5M464.4 347.6L466.7 345.5L467.0 348.6M489.0 353.2L487.6 345.4M486.7 348.3L487.6 345.4L489.4 347.8M511.8 350.7L510.8 347.9M510.4 350.7L510.8 347.9L512.8 349.8M534.6 350.8L534.0 347.8M533.2 350.5L534.0 347.8L535.7 350.1M557.1 348.3L557.5 350.3M558.3 347.6L557.5 350.3L555.8 348.0M577.3 349.3L583.3 349.3M580.8 348.0L583.3 349.3L580.8 350.6M601.4 347.0L605.2 351.6M604.6 348.9L605.2 351.6L602.7 350.5M622.3 349.3L630.3 349.3M627.6 347.9L630.3 349.3L627.6 350.7M648.0 350.1L650.6 348.6M647.8 348.7L650.6 348.6L649.1 350.9M670.7 350.4L673.9 348.2M671.2 348.5L673.9 348.2L672.6 350.6M150.0 373.0L160.0 364.6M155.2 365.7L160.0 364.6L158.0 369.2M174.3 372.9L181.7 364.7M177.8 366.2L181.7 364.7L180.6 368.8M197.6 375.2L204.4 362.4M199.9 365.6L204.4 362.4L204.3 367.9M218.2 378.1L229.8 359.5M224.7 362.6L229.8 359.5L229.3 365.4M243.4 376.5L250.6 361.1M245.9 364.8L250.6 361.1L250.8 367.1M268.6 374.1L271.4 363.5M268.6 366.6L271.4 363.5L272.3 367.6M292.8 373.8L293.2 363.8M291.3 367.1L293.2 363.8L294.8 367.2M316.4 373.8L315.6 363.8M314.1 367.3L315.6 363.8L317.6 367.0M341.5 373.1L336.5 364.5M336.7 368.3L336.5 364.5L339.7 366.5M364.5 373.1L359.5 364.5M359.7 368.3L359.5 364.5L362.7 366.5M386.2 372.1L383.8 365.5M383.5 368.3L383.8 365.5L385.9 367.4M405.8 371.5L410.2 366.1M407.7 367.2L410.2 366.1L409.6 368.8M429.0 372.3L433.0 365.3M430.5 367.0L433.0 365.3L432.8 368.4M453.6 373.3L454.4 364.3M452.6 367.2L454.4 364.3L455.7 367.5M475.1 372.9L478.9 364.7M476.2 366.8L478.9 364.7L479.0 368.1M498.0 372.3L502.0 365.3M499.5 367.0L502.0 365.3L501.8 368.4M523.8 370.1L522.2 367.5M522.4 370.3L522.2 367.5L524.6 369.0M546.8 370.1L545.2 367.5M545.4 370.3L545.2 367.5L547.6 369.0M567.7 368.1L570.3 369.6M568.8 367.2L570.3 369.6L567.5 369.4M590.3 367.8L593.7 369.8M592.2 367.5L593.7 369.8L590.9 369.7M611.4 367.1L618.6 370.5M616.8 368.1L618.6 370.5L615.6 370.6M635.0 369.3L641.0 368.3M638.3 367.5L641.0 368.3L638.7 370.0M660.3 370.7L661.7 366.9M659.6 368.8L661.7 366.9L662.0 369.7M683.5 370.2L684.5 367.4M682.5 369.3L684.5 367.4L684.9 370.2M162.0 391.7L170.6 384.9M166.5 385.7L170.6 384.9L168.9 388.7M187.4 393.5L191.2 383.1M188.1 386.0L191.2 383.1L191.7 387.3M209.1 397.2L215.5 379.4M211.2 383.5L215.5 379.4L216.3 385.3M229.8 395.4L240.8 381.2M235.4 383.7L240.8 381.2L239.7 387.1M254.4 392.2L262.2 384.4M258.2 385.7L262.2 384.4L260.9 388.4M279.4 393.5L283.2 383.1M280.1 386.0L283.2 383.1L283.7 387.3M302.6 393.0L306.0 383.6M303.2 386.2L306.0 383.6L306.5 387.4M328.8 392.5L325.8 384.1M325.3 387.5L325.8 384.1L328.3 386.4M350.3 393.3L350.3 383.3M348.6 386.7L350.3 383.3L352.0 386.7M374.8 392.5L371.8 384.1M371.3 387.5L371.8 384.1L374.3 386.4M394.9 393.6L397.7 383.0M394.9 386.1L397.7 383.0L398.6 387.1M417.9 398.2L420.7 378.4M417.3 383.3L420.7 378.4L422.6 384.1M441.3 390.0L443.3 386.6M441.0 388.1L443.3 386.6L443.2 389.4M465.3 393.3L465.3 383.3M463.6 386.7L465.3 383.3L467.0 386.7M487.0 389.8L489.6 386.8M487.0 387.9L489.6 386.8L489.0 389.5M510.3 391.1L512.3 385.5M510.3 387.4L512.3 385.5L512.7 388.3M534.8 389.7L533.8 386.9M533.4 389.7L533.8 386.9L535.8 388.8M555.9 388.8L558.7 387.8M555.9 387.4L558.7 387.8L556.8 389.8M579.4 388.8L581.2 387.8M578.4 387.9L581.2 387.8L579.6 390.1M601.8 388.6L604.8 388.0M602.1 387.2L604.8 388.0L602.5 389.7M624.9 388.8L627.7 387.8M624.9 387.4L627.7 387.8L625.8 389.8M649.3 389.8L649.3 386.8M648.0 389.3L649.3 386.8L650.6 389.3M672.3 389.8L672.3 386.8M671.0 389.3L672.3 386.8L673.6 389.3M150.8 412.0L159.2 403.6M154.9 405.0L159.2 403.6L157.8 407.9M174.8 412.3L181.2 403.3M177.5 405.3L181.2 403.3L180.6 407.4M199.2 410.8L202.8 404.8M200.4 406.3L202.8 404.8L202.6 407.6M220.9 410.4L227.1 405.2M224.1 405.9L227.1 405.2L225.9 408.0M246.5 413.3L247.5 402.3M245.3 405.9L247.5 402.3L249.0 406.2M269.8 414.3L270.2 401.3M267.8 405.6L270.2 401.3L272.3 405.8M292.4 414.3L293.6 401.3M290.9 405.5L293.6 401.3L295.4 405.9M316.2 412.8L315.8 402.8M314.2 406.2L315.8 402.8L317.7 406.1M341.2 413.9L336.8 401.7M336.2 406.6L336.8 401.7L340.4 405.1M362.5 413.3L361.5 402.3M360.0 406.2L361.5 402.3L363.7 405.9M388.2 413.4L381.8 402.2M382.0 407.1L381.8 402.2L385.9 404.9M408.0 412.3L408.0 403.3M406.4 406.3L408.0 403.3L409.6 406.3M430.6 412.3L431.4 403.3M429.6 406.2L431.4 403.3L432.7 406.5M455.0 411.7L453.0 403.9M452.3 406.9L453.0 403.9L455.0 406.2M476.0 411.7L478.0 403.9M476.0 406.2L478.0 403.9L478.7 406.9M499.0 411.7L501.0 403.9M499.0 406.2L501.0 403.9L501.7 406.9M522.0 409.5L524.0 406.1M521.7 407.6L524.0 406.1L523.9 408.9M544.6 408.3L547.4 407.3M544.6 406.9L547.4 407.3L545.5 409.3M568.0 409.5L570.0 406.1M567.7 407.6L570.0 406.1L569.9 408.9M591.0 409.5L593.0 406.1M590.7 407.6L593.0 406.1L592.9 408.9M614.0 410.6L616.0 405.0M614.0 406.9L616.0 405.0L616.4 407.8M638.5 409.2L637.5 406.4M637.1 409.2L637.5 406.4L639.5 408.3M661.3 409.3L660.7 406.3M659.9 409.0L660.7 406.3L662.4 408.6M684.3 409.3L683.7 406.3M682.9 409.0L683.7 406.3L685.4 408.6M162.8 431.5L169.8 423.1M166.0 424.7L169.8 423.1L168.9 427.2M186.4 432.0L192.2 422.6M188.6 424.8L192.2 422.6L191.9 426.8M211.4 432.2L213.2 422.4M210.9 425.4L213.2 422.4L214.3 426.0M235.1 433.3L235.5 421.3M233.3 425.3L235.5 421.3L237.4 425.4M258.3 433.3L258.3 421.3M256.2 425.4L258.3 421.3L260.4 425.4M281.5 433.3L281.1 421.3M279.2 425.4L281.1 421.3L283.3 425.3M304.5 432.8L304.1 421.8M302.3 425.6L304.1 421.8L306.1 425.5M327.3 432.8L327.3 421.8M325.4 425.5L327.3 421.8L329.2 425.5M350.5 432.8L350.1 421.8M348.3 425.6L350.1 421.8L352.1 425.5M374.7 431.1L371.9 423.5M371.6 426.6L371.9 423.5L374.2 425.6M398.2 431.4L394.4 423.2M394.3 426.6L394.4 423.2L397.1 425.3M419.5 431.8L419.1 422.8M417.7 425.9L419.1 422.8L420.8 425.8M442.3 431.8L442.3 422.8M440.7 425.8L442.3 422.8L443.9 425.8M465.4 431.3L465.2 423.3M463.9 426.1L465.2 423.3L466.6 426.0M488.0 431.3L488.6 423.3M487.0 425.9L488.6 423.3L489.8 426.1M510.8 430.3L511.8 424.3M510.1 426.6L511.8 424.3L512.6 427.0M534.1 429.8L534.5 424.8M533.0 427.2L534.5 424.8L535.6 427.4M557.6 429.3L557.0 425.3M556.1 428.0L557.0 425.3L558.6 427.6M581.0 429.2L579.6 425.4M579.3 428.2L579.6 425.4L581.7 427.3M603.3 429.8L603.3 424.8M602.0 427.3L603.3 424.8L604.6 427.3M626.8 428.7L625.8 425.9M625.4 428.7L625.8 425.9L627.8 427.8M649.8 428.7L648.8 425.9M648.4 428.7L648.8 425.9L650.8 427.8M672.8 428.7L671.8 425.9M671.4 428.7L671.8 425.9L673.8 427.8M151.1 451.4L158.9 442.2M154.7 444.0L158.9 442.2L157.8 446.6M174.6 451.7L181.4 441.9M177.4 444.0L181.4 441.9L180.8 446.4M201.5 452.3L200.5 441.3M199.0 445.2L200.5 441.3L202.7 444.9M223.3 455.3L224.7 438.3M221.6 443.4L224.7 438.3L227.0 443.9M245.1 453.8L248.9 439.8M245.2 443.9L248.9 439.8L250.0 445.2M270.0 455.3L270.0 438.3M267.3 443.6L270.0 438.3L272.7 443.6M293.0 452.3L293.0 441.3M291.1 445.0L293.0 441.3L294.9 445.0M315.3 454.5L316.7 439.1M313.6 444.1L316.7 439.1L318.9 444.5M339.2 451.3L338.8 442.3M337.4 445.4L338.8 442.3L340.5 445.3M362.9 447.1L361.1 446.5M363.0 448.5L361.1 446.5L363.8 446.1M387.3 450.1L382.7 443.5M383.1 446.5L382.7 443.5L385.4 445.0M408.5 452.8L407.5 440.8M405.8 445.1L407.5 440.8L409.9 444.7M431.0 451.8L431.0 441.8M429.3 445.2L431.0 441.8L432.7 445.2M454.0 450.8L454.0 442.8M452.6 445.5L454.0 442.8L455.4 445.5M477.0 451.3L477.0 442.3M475.4 445.3L477.0 442.3L478.6 445.3M500.0 451.3L500.0 442.3M498.4 445.3L500.0 442.3L501.6 445.3M522.3 450.7L523.7 442.9M521.9 445.3L523.7 442.9L524.6 445.8M545.7 450.3L546.3 443.3M544.8 445.7L546.3 443.3L547.4 445.9M570.0 448.5L568.0 445.1M568.1 447.9L568.0 445.1L570.3 446.6M593.1 447.8L590.9 445.8M591.9 448.4L590.9 445.8L593.6 446.5M615.3 448.8L614.7 444.8M613.8 447.5L614.7 444.8L616.3 447.1M638.8 448.1L637.2 445.5M637.4 448.3L637.2 445.5L639.6 447.0M662.0 447.9L660.0 445.7M660.7 448.4L660.0 445.7L662.6 446.7M685.0 447.9L683.0 445.7M683.7 448.4L683.0 445.7L685.6 446.7M163.7 470.0L168.9 462.6M165.9 464.2L168.9 462.6L168.4 466.0M186.3 471.5L192.3 461.1M188.5 463.6L192.3 461.1L192.1 465.7M213.3 472.2L211.3 460.4M209.9 464.8L211.3 460.4L214.0 464.0M234.8 471.8L235.8 460.8M233.6 464.4L235.8 460.8L237.3 464.7M255.2 474.8L261.4 457.8M257.0 461.9L261.4 457.8L262.1 463.8M281.9 472.8L280.7 459.8M278.9 464.4L280.7 459.8L283.4 464.0M304.0 473.5L304.6 459.1M301.9 463.9L304.6 459.1L306.9 464.0M327.1 472.3L327.5 460.3M325.3 464.3L327.5 460.3L329.4 464.4M350.0 474.0L350.6 458.6M347.7 463.7L350.6 458.6L353.1 463.9M376.0 468.5L370.6 464.1M371.7 466.6L370.6 464.1L373.3 464.7M399.5 470.8L393.1 461.8M393.7 465.9L393.1 461.8L396.8 463.8M419.5 471.3L419.1 461.3M417.5 464.7L419.1 461.3L421.0 464.6M442.3 470.8L442.3 461.8M440.7 464.8L442.3 461.8L443.9 464.8M464.9 470.8L465.7 461.8M463.9 464.7L465.7 461.8L467.0 465.0M489.1 470.7L487.5 461.9M486.5 465.1L487.5 461.9L489.6 464.6M511.7 470.8L510.9 461.8M509.6 465.0L510.9 461.8L512.7 464.7M534.3 470.8L534.3 461.8M532.7 464.8L534.3 461.8L535.9 464.8M558.0 468.2L556.6 464.4M556.3 467.2L556.6 464.4L558.7 466.3M581.6 469.0L579.0 463.6M578.9 466.4L579.0 463.6L581.2 465.3M603.8 469.3L602.8 463.3M602.0 466.0L602.8 463.3L604.5 465.6M627.0 468.2L625.6 464.4M625.3 467.2L625.6 464.4L627.7 466.3M650.3 468.0L648.3 464.6M648.4 467.4L648.3 464.6L650.6 466.1M672.3 467.3L672.3 465.3M671.0 467.8L672.3 465.3L673.6 467.8M152.2 490.6L157.8 481.0M154.2 483.3L157.8 481.0L157.5 485.2M175.7 490.8L180.3 480.8M177.0 483.4L180.3 480.8L180.5 485.0M197.4 493.5L204.6 478.1M199.9 481.8L204.6 478.1L204.8 484.1M223.7 489.8L224.3 481.8M222.7 484.4L224.3 481.8L225.5 484.6M247.2 492.3L246.8 479.3M244.7 483.8L246.8 479.3L249.2 483.6M270.9 490.7L269.1 480.9M268.0 484.5L269.1 480.9L271.4 483.9M292.8 491.8L293.2 479.8M291.0 483.8L293.2 479.8L295.1 483.9M315.0 491.7L317.0 479.9M314.3 483.5L317.0 479.9L318.4 484.3M339.4 490.8L338.6 480.8M337.1 484.3L338.6 480.8L340.6 484.0M364.3 490.8L359.7 480.8M359.5 485.0L359.7 480.8L363.0 483.4M385.4 490.8L384.6 480.8M383.1 484.3L384.6 480.8L386.6 484.0M411.4 488.7L404.6 482.9M405.9 486.1L404.6 482.9L407.9 483.7M431.7 489.7L430.3 481.9M429.4 484.8L430.3 481.9L432.1 484.3M454.3 489.3L453.7 482.3M452.6 484.9L453.7 482.3L455.2 484.7M478.0 489.7L476.0 481.9M475.3 484.9L476.0 481.9L478.0 484.2M501.8 488.8L498.2 482.8M498.4 485.6L498.2 482.8L500.6 484.3M524.7 488.3L521.3 483.3M521.7 486.1L521.3 483.3L523.8 484.7M546.8 487.6L545.2 484.0M545.1 486.8L545.2 484.0L547.4 485.7M570.2 489.1L567.8 482.5M567.5 485.3L567.8 482.5L569.9 484.4M593.0 487.5L591.0 484.1M591.1 486.9L591.0 484.1L593.3 485.6M615.3 488.8L614.7 482.8M613.7 485.4L614.7 482.8L616.2 485.2M639.0 488.6L637.0 483.0M636.6 485.8L637.0 483.0L639.0 484.9M661.9 487.0L660.1 484.6M660.5 487.3L660.1 484.6L662.6 485.9M684.9 487.0L683.1 484.6M683.5 487.3L683.1 484.6L685.6 485.9M165.9 510.3L166.7 500.3M164.7 503.5L166.7 500.3L168.2 503.8M187.7 511.1L190.9 499.5M187.8 502.9L190.9 499.5L191.8 504.0M210.1 511.4L214.5 499.2M210.9 502.6L214.5 499.2L215.1 504.1M232.6 512.6L238.0 498.0M233.6 502.0L238.0 498.0L238.7 503.9M258.8 506.7L257.8 503.9M257.4 506.7L257.8 503.9L259.8 505.8M280.3 508.1L282.3 502.5M280.3 504.4L282.3 502.5L282.7 505.3M301.1 509.1L307.5 501.5M304.0 503.0L307.5 501.5L306.7 505.2M326.3 509.2L328.3 501.4M326.3 503.7L328.3 501.4L329.0 504.4M350.0 509.3L350.6 501.3M349.0 503.9L350.6 501.3L351.8 504.1M374.8 509.5L371.8 501.1M371.3 504.5L371.8 501.1L374.3 503.4M398.0 507.8L394.6 502.8M395.0 505.6L394.6 502.8L397.1 504.2M422.0 507.5L416.6 503.1M417.7 505.6L416.6 503.1L419.3 503.7M444.9 508.4L439.7 502.2M440.4 505.2L439.7 502.2L442.5 503.4M467.3 508.2L463.3 502.4M463.7 505.2L463.3 502.4L465.8 503.7M490.1 508.3L486.6 502.3M486.7 505.1L486.6 502.3L488.9 503.8M513.0 508.9L509.6 501.7M509.5 504.7L509.6 501.7L512.0 503.5M535.9 507.2L532.7 503.4M533.3 506.1L532.7 503.4L535.3 504.5M558.7 507.3L555.9 503.3M556.3 506.0L555.9 503.3L558.3 504.6M581.8 507.9L578.8 502.7M578.9 505.5L578.8 502.7L581.1 504.2M604.4 507.6L602.2 503.0M602.1 505.8L602.2 503.0L604.4 504.8M627.4 507.6L625.2 503.0M625.1 505.8L625.2 503.0L627.4 504.8M650.5 507.5L648.0 503.1M648.2 505.9L648.0 503.1L650.4 504.7M673.8 506.6L670.8 504.0M671.9 506.6L670.8 504.0L673.5 504.6M155.0 529.8L155.0 519.8M153.3 523.2L155.0 519.8L156.7 523.2M178.4 529.8L177.6 519.8M176.1 523.3L177.6 519.8L179.6 523.0M200.1 529.7L201.9 519.9M199.6 522.9L201.9 519.9L203.0 523.5M221.8 530.9L226.2 518.7M222.6 522.1L226.2 518.7L226.8 523.6M245.8 528.1L248.2 521.5M246.1 523.4L248.2 521.5L248.5 524.3M266.6 527.7L273.4 521.9M270.1 522.7L273.4 521.9L272.1 525.1M293.3 525.7L292.7 523.9M292.3 526.6L292.7 523.9L294.7 525.8M312.8 526.3L319.2 523.3M316.4 523.2L319.2 523.3L317.4 525.5M339.0 528.3L339.0 521.3M337.7 523.8L339.0 521.3L340.3 523.8M360.3 529.5L363.7 520.1M360.9 522.7L363.7 520.1L364.2 523.9M384.7 528.8L385.3 520.8M383.7 523.4L385.3 520.8L386.5 523.6M408.3 528.8L407.7 520.8M406.5 523.6L407.7 520.8L409.3 523.4M432.9 527.1L429.1 522.5M429.7 525.2L429.1 522.5L431.6 523.6M454.4 529.8L453.6 519.8M452.1 523.3L453.6 519.8L455.6 523.0M477.2 529.3L476.8 520.3M475.4 523.4L476.8 520.3L478.5 523.3M500.7 528.7L499.3 520.9M498.4 523.8L499.3 520.9L501.1 523.3M524.7 527.3L521.3 522.3M521.7 525.1L521.3 522.3L523.8 523.7M548.1 526.9L543.9 522.7M544.7 525.3L543.9 522.7L546.5 523.5M570.8 526.6L567.2 523.0M568.1 525.7L567.2 523.0L569.9 523.9M593.4 526.5L590.6 523.1M591.2 525.8L590.6 523.1L593.1 524.2M616.4 526.5L613.6 523.1M614.2 525.8L613.6 523.1L616.1 524.2M639.2 527.0L636.8 522.6M636.9 525.4L636.8 522.6L639.1 524.2M661.3 526.8L660.7 522.8M659.8 525.5L660.7 522.8L662.3 525.1M685.0 526.5L683.0 523.1M683.1 525.9L683.0 523.1L685.3 524.6M165.5 548.7L167.1 539.9M165.0 542.6L167.1 539.9L168.1 543.1M189.7 549.3L188.9 539.3M187.4 542.8L188.9 539.3L190.9 542.5M210.4 548.4L214.2 540.2M211.5 542.3L214.2 540.2L214.3 543.6M233.4 546.6L237.2 542.0M234.7 543.1L237.2 542.0L236.6 544.7M255.4 548.4L261.2 540.2M257.8 542.0L261.2 540.2L260.6 544.0M278.4 548.4L284.2 540.2M280.8 542.0L284.2 540.2L283.6 544.0M301.2 546.9L307.4 541.7M304.4 542.4L307.4 541.7L306.2 544.5M323.9 545.2L330.7 543.4M327.9 542.8L330.7 543.4L328.6 545.3M348.8 547.5L351.8 541.1M349.6 542.9L351.8 541.1L351.9 543.9M370.7 547.4L375.9 541.2M373.1 542.4L375.9 541.2L375.2 544.2M394.6 547.9L398.0 540.7M395.6 542.5L398.0 540.7L398.1 543.7M418.3 548.2L420.3 540.4M418.3 542.7L420.3 540.4L421.0 543.4M442.0 547.8L442.6 540.8M441.1 543.2L442.6 540.8L443.7 543.4M464.3 548.2L466.3 540.4M464.3 542.7L466.3 540.4L467.0 543.4M488.0 548.3L488.6 540.3M487.0 542.9L488.6 540.3L489.8 543.1M510.1 548.6L512.5 540.0M510.2 542.5L512.5 540.0L513.2 543.3M534.6 548.3L534.0 540.3M532.8 543.1L534.0 540.3L535.6 542.9M557.8 545.7L556.8 542.9M556.4 545.7L556.8 542.9L558.8 544.8M581.3 546.0L579.3 542.6M579.4 545.4L579.3 542.6L581.6 544.1M604.2 546.6L602.4 542.0M602.1 544.7L602.4 542.0L604.5 543.9M627.2 546.6L625.4 542.0M625.1 544.7L625.4 542.0L627.5 543.9M650.2 546.6L648.4 542.0M648.1 544.7L648.4 542.0L650.5 543.9M673.2 546.6L671.4 542.0M671.1 544.7L671.4 542.0L673.5 543.9M155.4 568.3L154.6 559.3M153.3 562.5L154.6 559.3L156.4 562.2M178.8 568.2L177.2 559.4M176.2 562.6L177.2 559.4L179.3 562.1M200.1 568.7L201.9 558.9M199.6 561.9L201.9 558.9L203.0 562.5M222.1 569.5L225.9 558.1M222.6 561.3L225.9 558.1L226.6 562.6M244.5 568.1L249.5 559.5M246.3 561.5L249.5 559.5L249.3 563.3M266.5 567.3L273.5 560.3M269.9 561.4L273.5 560.3L272.4 563.9M287.7 567.5L298.3 560.1M293.4 560.8L298.3 560.1L296.0 564.4M311.7 566.3L320.3 561.3M316.5 561.5L320.3 561.3L318.3 564.5M335.8 567.6L342.2 560.0M338.7 561.5L342.2 560.0L341.4 563.7M361.5 566.8L362.5 560.8M360.8 563.1L362.5 560.8L363.3 563.5M383.3 566.3L386.7 561.3M384.2 562.7L386.7 561.3L386.3 564.1M407.0 567.7L409.0 559.9M407.0 562.2L409.0 559.9L409.7 562.9M430.8 568.3L431.2 559.3M429.5 562.3L431.2 559.3L432.6 562.4M453.2 568.2L454.8 559.4M452.7 562.1L454.8 559.4L455.8 562.6M475.8 568.1L478.2 559.5M475.9 562.0L478.2 559.5L478.9 562.8M498.8 567.1L501.2 560.5M499.1 562.4L501.2 560.5L501.5 563.3M522.7 567.3L523.3 560.3M521.8 562.7L523.3 560.3L524.4 562.9M546.0 566.8L546.0 560.8M544.7 563.3L546.0 560.8L547.3 563.3M569.3 565.8L568.7 561.8M567.8 564.5L568.7 561.8L570.3 564.1M592.3 562.3L591.7 565.3M593.4 563.0L591.7 565.3L590.9 562.6M616.6 565.7L613.4 561.9M614.0 564.6L613.4 561.9L616.0 563.0M639.3 564.5L636.7 563.0M638.2 565.4L636.7 563.0L639.5 563.2M662.7 564.8L659.3 562.8M660.8 565.1L659.3 562.8L662.1 562.9M685.4 564.3L682.6 563.3M684.5 565.3L682.6 563.3L685.4 562.9M166.3 588.8L166.3 577.8M164.4 581.5L166.3 577.8L168.2 581.5M191.0 588.0L187.6 578.6M187.1 582.4L187.6 578.6L190.4 581.2M213.8 585.9L210.8 580.7M210.9 583.5L210.8 580.7L213.1 582.2M233.3 586.2L237.3 580.4M234.8 581.7L237.3 580.4L236.9 583.2M256.0 586.6L260.6 580.0M257.9 581.5L260.6 580.0L260.2 583.0M277.8 586.8L284.8 579.8M281.2 580.9L284.8 579.8L283.7 583.4M300.6 585.9L308.0 580.7M304.6 581.2L308.0 580.7L306.4 583.7M324.1 584.8L330.5 581.8M327.7 581.7L330.5 581.8L328.7 584.0M347.4 584.1L353.2 582.5M350.5 581.9L353.2 582.5L351.1 584.4M374.0 587.2L372.6 579.4M371.7 582.3L372.6 579.4L374.4 581.8M395.3 587.2L397.3 579.4M395.3 581.7L397.3 579.4L398.0 582.4M419.2 587.3L419.4 579.3M418.0 582.0L419.4 579.3L420.7 582.1M442.3 587.3L442.3 579.3M440.9 582.0L442.3 579.3L443.7 582.0M465.3 587.3L465.3 579.3M463.9 582.0L465.3 579.3L466.7 582.0M488.2 587.3L488.4 579.3M487.0 582.0L488.4 579.3L489.7 582.1M511.6 587.3L511.0 579.3M509.8 582.1L511.0 579.3L512.6 581.9M534.3 586.3L534.3 580.3M533.0 582.8L534.3 580.3L535.6 582.8M557.6 585.3L557.0 581.3M556.1 584.0L557.0 581.3L558.6 583.6M581.2 585.6L579.4 581.0M579.1 583.7L579.4 581.0L581.5 582.9M604.6 584.8L602.0 581.8M602.6 584.5L602.0 581.8L604.6 582.9M628.3 583.6L624.3 583.0M626.6 584.6L624.3 583.0L627.0 582.1M651.3 583.0L647.3 583.6M650.0 584.5L647.3 583.6L649.6 582.0M674.3 583.3L670.3 583.3M672.8 584.6L670.3 583.3L672.8 582.0M155.4 607.3L154.6 598.3M153.3 601.5L154.6 598.3L156.4 601.2M178.8 607.2L177.2 598.4M176.2 601.6L177.2 598.4L179.3 601.1M201.7 606.7L200.3 598.9M199.4 601.8L200.3 598.9L202.1 601.3M222.0 606.3L226.0 599.3M223.5 601.0L226.0 599.3L225.8 602.4M244.7 606.1L249.3 599.5M246.6 601.0L249.3 599.5L248.9 602.5M266.8 606.0L273.2 599.6M269.9 600.7L273.2 599.6L272.1 602.9M289.3 605.4L296.7 600.2M293.3 600.7L296.7 600.2L295.1 603.2M312.4 604.5L319.6 601.1M316.6 601.0L319.6 601.1L317.8 603.5M336.0 604.5L342.0 601.0M339.2 601.2L342.0 601.0L340.5 603.4M361.4 606.2L362.6 599.4M360.9 601.6L362.6 599.4L363.4 602.0M384.1 606.2L385.9 599.4M384.0 601.5L385.9 599.4L386.5 602.2M407.7 606.8L408.3 598.8M406.7 601.4L408.3 598.8L409.5 601.6M431.0 606.8L431.0 598.8M429.6 601.5L431.0 598.8L432.4 601.5M454.0 606.8L454.0 598.8M452.6 601.5L454.0 598.8L455.4 601.5M476.9 606.8L477.1 598.8M475.7 601.5L477.1 598.8L478.4 601.6M499.9 606.3L500.1 599.3M498.8 601.8L500.1 599.3L501.3 601.8M523.0 605.8L523.0 599.8M521.7 602.3L523.0 599.8L524.3 602.3M546.2 605.3L545.8 600.3M544.7 602.9L545.8 600.3L547.3 602.7M569.7 604.7L568.3 600.9M568.0 603.7L568.3 600.9L570.4 602.8M593.4 603.3L590.6 602.3M592.5 604.3L590.6 602.3L593.4 601.9M616.5 602.9L613.5 602.7M615.9 604.2L613.5 602.7L616.1 601.6M639.5 602.8L636.5 602.8M639.0 604.1L636.5 602.8L639.0 601.5M662.5 602.8L659.5 602.8M662.0 604.1L659.5 602.8L662.0 601.5M685.5 602.8L682.5 602.8M685.0 604.1L682.5 602.8L685.0 601.5" stroke="#000" stroke-width="0.6" fill="none" stroke-linecap="round" stroke-linejoin="round"/>
</g>
<rect x="153.5" y="72.5" width="531.1" height="530.6" fill="none" stroke="#000" stroke-width="1.1"/>
<path d="M163.6 603.1v-14.5M277.7 603.1v-14.5M390.7 603.1v-14.5M504.5 603.1v-14.5M618.2 603.1v-14.5M186.7 72.5v14M290.5 72.5v14M394.5 72.5v14M497.0 72.5v14M600.4 72.5v14M153.5 100.3h14.5M684.6 100.3h-14.5M153.5 232.5h14.5M684.6 232.5h-14.5M153.5 364.5h14.5M684.6 364.5h-14.5M153.5 496.5h14.5M684.6 496.5h-14.5" stroke="#000" stroke-width="1" fill="none"/>
<rect x="658" y="72.3" width="29.4" height="39" fill="#fff" stroke="#222" stroke-width="0.6"/>
<text class="l" x="672.6" y="86.6" text-anchor="middle">8</text>
<path d="M661.3 97.6H683.8M680 96L683.8 97.6L680 99.2" stroke="#000" stroke-width="0.6" fill="none"/>
<text class="b" x="311.6" y="26.2">2023/7/24/12UTC (6LT), Monday</text>
<text class="b" x="311.6" y="41.95">FV3M0B2L1_GFS025</text>
<text class="t" x="153.2" y="63.7">instantaneous surface downward shortwave flux</text>
<text class="t" x="684.6" y="63.7" text-anchor="end">W/m**2</text>
<text class="l" x="144.4" y="237.5" text-anchor="end">36°N</text>
<text class="l" x="144.4" y="501.5" text-anchor="end">32°N</text>
<text class="l" x="162.8" y="624.1" text-anchor="middle">102°W</text>
<text class="l" x="390.7" y="624.1" text-anchor="middle">98°W</text>
<text class="l" x="618.2" y="624.1" text-anchor="middle">94°W</text>
<text x="216.4" y="619.4" style="font-size:14.4px">Min= 0 Max= 79.52</text>
<g shape-rendering="crispEdges">
<rect x="161.90" y="627.5" width="32.49" height="14.4" fill="#0000ff"/>
<rect x="194.09" y="627.5" width="32.49" height="14.4" fill="#0066ff"/>
<rect x="226.29" y="627.5" width="32.49" height="14.4" fill="#00cdff"/>
<rect x="258.48" y="627.5" width="32.49" height="14.4" fill="#00eecc"/>
<rect x="290.68" y="627.5" width="32.49" height="14.4" fill="#00cc66"/>
<rect x="322.87" y="627.5" width="32.49" height="14.4" fill="#00aa11"/>
<rect x="355.06" y="627.5" width="32.49" height="14.4" fill="#66cc11"/>
<rect x="387.26" y="627.5" width="32.49" height="14.4" fill="#ccee11"/>
<rect x="419.45" y="627.5" width="32.49" height="14.4" fill="#ffee00"/>
<rect x="451.64" y="627.5" width="32.49" height="14.4" fill="#ffcc00"/>
<rect x="483.84" y="627.5" width="32.49" height="14.4" fill="#ffaa00"/>
<rect x="516.03" y="627.5" width="32.49" height="14.4" fill="#ff6600"/>
<rect x="548.23" y="627.5" width="32.49" height="14.4" fill="#ff2200"/>
<rect x="580.42" y="627.5" width="32.49" height="14.4" fill="#dd0022"/>
<rect x="612.61" y="627.5" width="32.49" height="14.4" fill="#990055"/>
<rect x="644.81" y="627.5" width="32.19" height="14.4" fill="#550088"/>
</g>
<path d="M194.09 627.5V641.9M226.29 627.5V641.9M258.48 627.5V641.9M290.68 627.5V641.9M322.87 627.5V641.9M355.06 627.5V641.9M387.26 627.5V641.9M419.45 627.5V641.9M451.64 627.5V641.9M483.84 627.5V641.9M516.03 627.5V641.9M548.23 627.5V641.9M580.42 627.5V641.9M612.61 627.5V641.9M644.81 627.5V641.9" stroke="#000" stroke-width="0.7" fill="none"/>
<rect x="161.9" y="627.5" width="515.1" height="14.4" fill="none" stroke="#333" stroke-width="0.4"/>
<text class="l" x="194.1" y="656.3" text-anchor="middle">5</text>
<text class="l" x="258.5" y="656.3" text-anchor="middle">15</text>
<text class="l" x="322.9" y="656.3" text-anchor="middle">25</text>
<text class="l" x="387.3" y="656.3" text-anchor="middle">35</text>
<text class="l" x="451.6" y="656.3" text-anchor="middle">45</text>
<text class="l" x="516.0" y="656.3" text-anchor="middle">55</text>
<text class="l" x="580.4" y="656.3" text-anchor="middle">65</text>
<text class="l" x="644.8" y="656.3" text-anchor="middle">75</text>
</svg></body></html>
